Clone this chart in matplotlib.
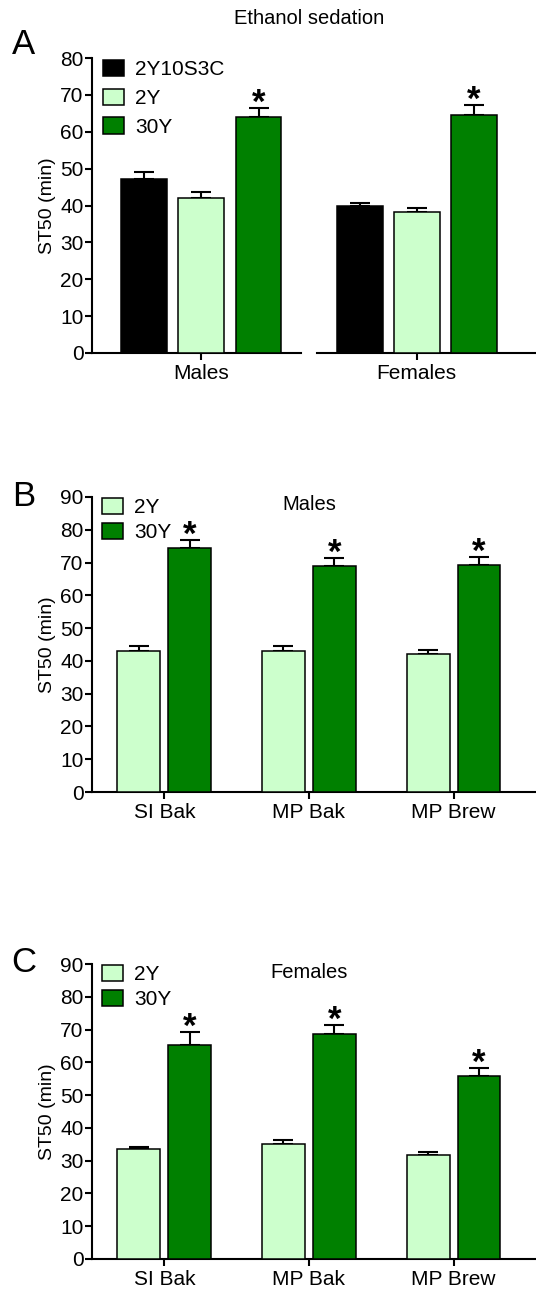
import matplotlib
matplotlib.use("Agg")
import matplotlib.pyplot as plt
from matplotlib.patches import Patch
import numpy as np

plt.rcParams['font.family'] = ['Liberation Sans', 'DejaVu Sans']

# ---- data ----
groupsA = ["Males", "Females"]
seriesA = ["2Y10S3C", "2Y", "30Y"]
A_males = [47.3, 42.0, 63.9]
A_males_err = [1.8, 1.7, 2.5]
A_females = [39.8, 38.3, 64.6]
A_females_err = [1.0, 1.0, 2.7]
A_sig_males = [False, False, True]
A_sig_females = [False, False, True]

catsBC = ["SI Bak", "MP Bak", "MP Brew"]
seriesBC = ["2Y", "30Y"]
B_2Y = [42.9, 42.9, 42.2]
B_2Y_err = [1.5, 1.6, 1.1]
B_30Y = [74.5, 68.8, 69.2]
B_30Y_err = [2.3, 2.7, 2.4]
C_2Y = [33.5, 35.0, 31.8]
C_2Y_err = [0.8, 1.4, 0.8]
C_30Y = [65.3, 68.5, 55.9]
C_30Y_err = [3.9, 2.9, 2.4]

colors = {"2Y10S3C": "#000000", "2Y": "#CCFFCC", "30Y": "#008000"}

W, H = 536, 1289
fig = plt.figure(figsize=(W / 100, H / 100), dpi=100)

def rect(x0, x1, ybot, ytop):
    return [x0 / W, 1 - ybot / H, (x1 - x0) / W, (ybot - ytop) / H]

LW = 1.5
TICKFS = 15
CATFS = 15
YLFS = 14
LEGFS = 15
TITLEFS = 14.5
LETFS = 25

def style(ax, left=True):
    for s in ["top", "right"]:
        ax.spines[s].set_visible(False)
    ax.spines["bottom"].set_linewidth(LW)
    ax.spines["left"].set_linewidth(LW)
    if not left:
        ax.spines["left"].set_visible(False)
        ax.tick_params(axis="y", left=False, labelleft=False)
    ax.tick_params(axis="both", direction="out", width=LW, length=5,
                   labelsize=TICKFS, pad=1.0)
    ax.tick_params(axis="x", pad=3)

def star(ax, x, y):
    ax.annotate("*", (x, y), xytext=(0, -8.5), textcoords="offset points",
                ha="center", va="bottom", fontsize=25, fontweight="bold")

def bars(ax, xs, vals, errs, name, width, sigs=None):
    ax.bar(xs, vals, width=width, color=colors[name], edgecolor="black",
           linewidth=1.1, zorder=3)
    ax.errorbar(xs, vals, yerr=[np.zeros(len(vals)), errs], fmt="none",
                ecolor="black", elinewidth=LW, capsize=7.5, capthick=LW, zorder=2)
    if sigs is not None:
        for x, v, e, s in zip(xs, vals, errs, sigs):
            if s:
                star(ax, x, v + e)

# ---- Panel A ----
axA1 = fig.add_axes(rect(92, 301, 353, 58))
axA2 = fig.add_axes(rect(317, 536, 353, 58), sharey=axA1)
for ax, vals, errs, sig, grp in [(axA1, A_males, A_males_err, A_sig_males, groupsA[0]),
                                 (axA2, A_females, A_females_err, A_sig_females, groupsA[1])]:
    for i, name in enumerate(seriesA):
        bars(ax, [i], [vals[i]], [errs[i]], name, 0.8, [sig[i]])
    ax.set_xticks([1])
    ax.set_xticklabels([grp], fontsize=CATFS)
axA1.set_xlim(-0.9, 2.74)
axA2.set_xlim(-0.75, 3.09)
axA1.set_ylim(0, 80)
axA1.set_yticks(np.arange(0, 81, 10))
style(axA1)
style(axA2, left=False)
axA1.set_ylabel("ST50 (min)", fontsize=YLFS, labelpad=3)
fig.text(309 / W, 1 - 19 / H, "Ethanol sedation", ha="center", va="center", fontsize=TITLEFS)
fig.text(24 / W, 1 - 45 / H, "A", ha="center", va="center", fontsize=LETFS)
handlesA = [Patch(facecolor=colors[n], edgecolor="black", linewidth=1.1) for n in seriesA]
axA1.legend(handlesA, seriesA, loc="upper left", bbox_to_anchor=(103 / W, 1 - 60 / H),
            bbox_transform=fig.transFigure, frameon=False, fontsize=LEGFS,
            handlelength=1.0, handleheight=0.82, handletextpad=0.55,
            labelspacing=0.45, borderaxespad=0, borderpad=0)

# ---- Panels B, C ----
def panelBC(ybot, ytop, v2, e2, v30, e30, title, letter, lety, titley):
    ax = fig.add_axes(rect(92, 536, ybot, ytop))
    x = np.arange(len(catsBC))
    off, w = 0.176, 0.297
    bars(ax, x - off, v2, e2, "2Y", w)
    bars(ax, x + off, v30, e30, "30Y", w, [True] * len(catsBC))
    ax.set_xticks(x)
    ax.set_xticklabels(catsBC, fontsize=CATFS)
    ax.set_xlim(-0.5, 2.57)
    ax.set_ylim(0, 90)
    ax.set_yticks(np.arange(0, 91, 10))
    style(ax)
    ax.set_ylabel("ST50 (min)", fontsize=YLFS, labelpad=3)
    fig.text(309 / W, 1 - titley / H, title, ha="center", va="center", fontsize=TITLEFS)
    fig.text(24 / W, 1 - lety / H, letter, ha="center", va="center", fontsize=LETFS)
    handles = [Patch(facecolor=colors[n], edgecolor="black", linewidth=1.1) for n in seriesBC]
    ax.legend(handles, seriesBC, loc="upper left",
              bbox_to_anchor=(102 / W, 1 - (ytop + 1) / H),
              bbox_transform=fig.transFigure, frameon=False, fontsize=LEGFS,
              handlelength=1.0, handleheight=0.82, handletextpad=0.55,
              labelspacing=0.27, borderaxespad=0, borderpad=0)
    return ax

panelBC(792, 497, B_2Y, B_2Y_err, B_30Y, B_30Y_err, "Males", "B", 497, 505)
panelBC(1259, 964, C_2Y, C_2Y_err, C_30Y, C_30Y_err, "Females", "C", 963, 973)

fig.savefig("out.png", dpi=100)
